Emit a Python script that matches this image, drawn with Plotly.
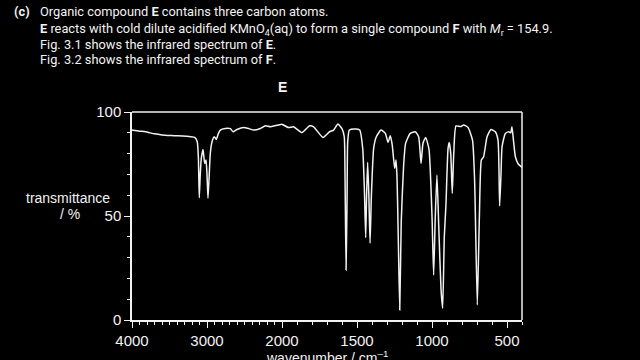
import plotly.graph_objects as go

# ---- data ----
wavenumber = [4000, 3900, 3820, 3700, 3600, 3420, 3220, 3160, 3130, 3115, 3103, 3090, 3076, 3053,
              3031, 3013, 3000, 2987, 2970, 2956, 2933, 2903, 2876, 2850, 2823, 2756, 2689, 2653,
              2600, 2511, 2440, 2378, 2289, 2222, 2156, 2080, 2000,
              1956, 1923, 1867, 1816, 1789, 1727, 1683, 1656, 1627, 1601, 1585, 1580, 1573, 1566,
              1562, 1551, 1511, 1482, 1462, 1451, 1442, 1436, 1429, 1421, 1413, 1404, 1389, 1371,
              1340, 1311, 1293, 1278, 1265, 1249, 1240, 1233, 1225, 1215, 1205, 1189, 1176, 1145,
              1111, 1089, 1073, 1060, 1042, 1020, 1000, 989, 978, 967, 955, 940, 929, 918, 907,
              893, 885, 875, 865, 855, 840, 810, 789, 760, 730, 716, 698, 684, 671, 656, 633, 607,
              578, 560, 553, 549, 540, 533, 511, 489, 475, 467, 456, 444, 425, 400]
transmittance = [91.3, 90.8, 90.5, 89.5, 89.0, 88.6, 88.1, 87.7, 85.7, 78.0, 58.8, 70.0, 77.7, 82.0,
                 75.3, 76.9, 70.0, 58.5, 70.0, 80.1, 85.7, 88.1, 86.9, 89.5, 91.3, 92.1, 92.0, 90.5,
                 91.6, 92.6, 92.0, 91.3, 92.1, 93.4, 92.9, 93.5, 94.1,
                 92.5, 92.9, 90.1, 93.4, 92.9, 87.8, 90.5, 91.3, 94.2, 92.1, 88.1, 70.0, 24.0, 60.0,
                 85.7, 91.3, 91.8, 91.3, 82.5, 63.3, 39.6, 60.0, 75.8, 60.0, 36.9, 60.0, 82.5, 88.1,
                 91.3, 89.7, 85.4, 88.6, 84.1, 72.9, 76.9, 68.1, 40.0, 4.8, 47.3, 74.5, 84.9, 89.7,
                 90.5, 88.1, 75.3, 85.0, 87.8, 82.0, 50.0, 21.6, 50.0, 69.7, 45.0, 15.0, 5.6, 40.0, 55.3,
                 82.5, 85.3, 80.0, 60.9, 80.0, 93.3, 93.0, 93.8, 92.6, 86.5, 67.3, 7.2, 50.0, 76.9, 78.5,
                 88.1, 91.6, 90.5, 86.5, 70.0, 54.8, 70.0, 83.3, 89.7, 90.5, 90.0, 92.9, 85.7, 78.5,
                 75.0, 73.4]

x_ticks_high = [4000, 3000, 2000]
x_ticks_low = [1500, 1000, 500]
y_ticks = [0, 50, 100]
split = 2000

hi_x = [w for w in wavenumber if w >= split]
hi_y = [t for w, t in zip(wavenumber, transmittance) if w >= split]
lo_x = [w for w in wavenumber if w <= split]
lo_y = [t for w, t in zip(wavenumber, transmittance) if w <= split]

FG = "#f2f2f2"
LINE = dict(color=FG, width=1.5, shape="spline", smoothing=0.5)
fig = go.Figure()
fig.add_trace(go.Scatter(x=hi_x, y=hi_y, mode="lines", line=LINE, xaxis="x", yaxis="y",
                         showlegend=False, hoverinfo="skip"))
fig.add_trace(go.Scatter(x=lo_x, y=lo_y, mode="lines", line=LINE, xaxis="x2", yaxis="y2",
                         showlegend=False, hoverinfo="skip"))

W_PLOT = 390.0
d_split = 150.0 / W_PLOT
tickfont = dict(family="Liberation Sans, Arial, sans-serif", size=15, color=FG)
common_x = dict(showgrid=False, zeroline=False, showline=True, linecolor=FG, linewidth=1.5,
                ticks="outside", ticklen=6, tickwidth=1.2, tickcolor=FG, tickfont=tickfont,
                minor=dict(dtick=100, ticks="outside", ticklen=3, tickwidth=1, tickcolor=FG),
                anchor="y")
fig.update_layout(
    width=640, height=360,
    paper_bgcolor="black", plot_bgcolor="black",
    margin=dict(l=131.7, r=640 - 131.7 - W_PLOT, t=112, b=40),
    xaxis=dict(common_x, domain=[0, d_split], range=[4000, 2000], tickvals=x_ticks_high,
               ticktext=[str(v) for v in x_ticks_high]),
    xaxis2=dict(common_x, domain=[d_split, 1], range=[2000, 400], tickvals=x_ticks_low,
                ticktext=[str(v) for v in x_ticks_low], anchor="y2"),
    yaxis=dict(domain=[0, 1], range=[0, 100], showgrid=False, zeroline=False, showline=True,
               linecolor=FG, linewidth=1.5, ticks="outside", ticklen=6, tickwidth=1.2,
               tickcolor=FG, tickvals=y_ticks, tickfont=tickfont,
               minor=dict(dtick=10, ticks="outside", ticklen=3, tickwidth=1, tickcolor=FG)),
    yaxis2=dict(domain=[0, 1], range=[0, 100], showgrid=False, zeroline=False, showline=False,
                showticklabels=False, ticks="", anchor="x2"),
)
# frame (top and right borders)
fig.add_shape(type="line", xref="paper", yref="paper", x0=0, x1=1, y0=1, y1=1,
              line=dict(color=FG, width=1.5))
fig.add_shape(type="line", xref="paper", yref="paper", x0=1, x1=1, y0=0, y1=1,
              line=dict(color=FG, width=1.5))

TXT = "Roboto, Liberation Sans, Arial, sans-serif"
def px(x):
    return (x - 131.7) / W_PLOT
def py(y):
    return (320 - y) / 208.0

lines = [
    "Organic compound <b>E</b> contains three carbon atoms.",
    "<b>E</b> reacts with cold dilute acidified KMnO<sub>4</sub>(aq) to form a single compound <b>F</b> with <i>M</i><sub>r</sub> = 154.9.",
    "Fig. 3.1 shows the infrared spectrum of <b>E</b>.",
    "Fig. 3.2 shows the infrared spectrum of <b>F</b>.",
]
ys = [12, 29, 44, 59]
ann = [dict(text="<b>(c)</b>", x=px(12), y=py(12), xref="paper", yref="paper", xanchor="left",
            yanchor="middle", showarrow=False, font=dict(family=TXT, size=12.8, color=FG))]
for t, yy in zip(lines, ys):
    ann.append(dict(text=t, x=px(38), y=py(yy), xref="paper", yref="paper", xanchor="left",
                    yanchor="middle", showarrow=False, font=dict(family=TXT, size=12.8, color=FG)))
AX = "Liberation Sans, Arial, sans-serif"
def cann(text, x, y):
    return dict(text=text, x=x, y=y, xref="paper", yref="paper", xanchor="center",
                yanchor="middle", showarrow=False, font=dict(family=AX, size=14, color=FG))
ann += [
    cann("<b>E</b>", px(282), py(87)),
    cann("transmittance", px(68), py(198)),
    cann("/ %", px(70), py(214)),
    cann("wavenumber / cm<sup>–1</sup>", 0.5, py(357)),
]
fig.update_layout(annotations=ann)
fig.write_html("out.html")
